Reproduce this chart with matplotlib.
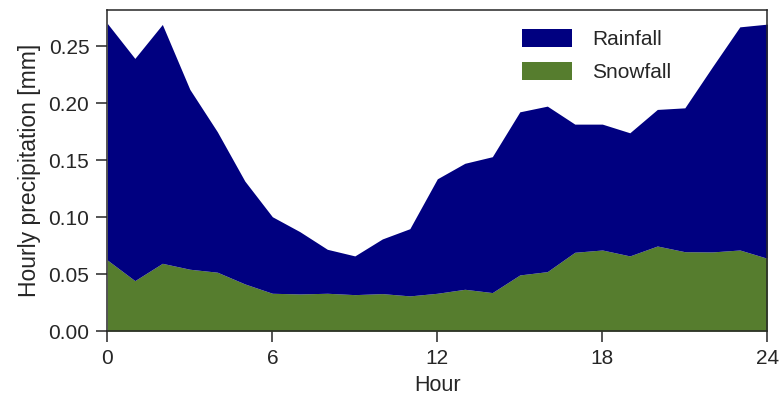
import matplotlib
matplotlib.use("Agg")
import matplotlib.pyplot as plt
import seaborn as sns
import numpy as np

hours = list(range(25))
total = [0.2702, 0.2395, 0.2693, 0.2123, 0.1751, 0.1318, 0.1005, 0.0874, 0.0719,
         0.0661, 0.0810, 0.0900, 0.1338, 0.1474, 0.1532, 0.1926, 0.1976, 0.1818,
         0.1818, 0.1742, 0.1947, 0.1961, 0.2320, 0.2672, 0.2696]
snowfall = [0.0625, 0.0444, 0.0596, 0.0544, 0.0518, 0.0415, 0.0333, 0.0327, 0.0333,
            0.0321, 0.0330, 0.0310, 0.0333, 0.0368, 0.0339, 0.0494, 0.0523, 0.0693,
            0.0713, 0.0661, 0.0748, 0.0698, 0.0696, 0.0713, 0.0640]
rainfall = [t - s for t, s in zip(total, snowfall)]
xticks = [0, 6, 12, 18, 24]
yticks = [0, 0.05, 0.10, 0.15, 0.20, 0.25]

sns.set_style("ticks")
plt.rcParams['font.family'] = ['Liberation Sans', 'DejaVu Sans']

fig, ax = plt.subplots(figsize=(7.79, 4.0), dpi=100)
fig.subplots_adjust(left=0.1378, right=0.985, top=0.975, bottom=0.172)

ax.stackplot(hours, snowfall, rainfall, colors=["#567d2e", "#000080"],
             labels=["Snowfall", "Rainfall"], linewidth=0, edgecolor='face')
ax.set_xlim(0, 24)
ax.set_ylim(0, 0.282)
ax.set_xticks(xticks)
ax.set_yticks(yticks)
ax.yaxis.set_major_formatter(matplotlib.ticker.FormatStrFormatter('%.2f'))
ax.tick_params(labelsize=15, colors='#262626', length=8, width=1.1,
               direction='out', bottom=True, left=True, pad=5)
ax.set_xlabel("Hour", fontsize=15.5, color='#262626', labelpad=5)
ax.set_ylabel("Hourly precipitation [mm]", fontsize=16.5, color='#262626', labelpad=5)

h, l = ax.get_legend_handles_labels()
ax.legend(h[::-1], l[::-1], loc='upper left', bbox_to_anchor=(0.629, 0.942),
          frameon=False, fontsize=15, handlelength=2.4, handleheight=1.0,
          labelspacing=0.6, handletextpad=0.95, borderpad=0, borderaxespad=0)
for s in ax.spines.values():
    s.set_color('#262626')
    s.set_linewidth(1.1)

fig.savefig("out.png", dpi=100)
